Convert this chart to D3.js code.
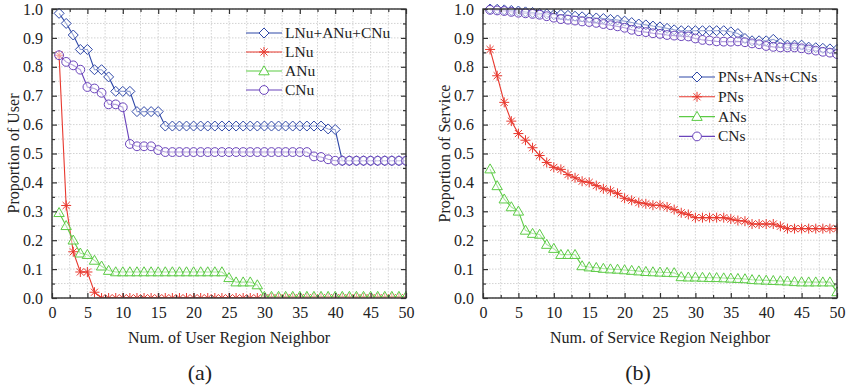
<!DOCTYPE html>
<html><head><meta charset="utf-8">
<script src="https://cdn.jsdelivr.net/npm/d3@7"></script>
<style>
body{margin:0;background:#fff;}
</style></head>
<body><svg id="c" width="850" height="387"></svg>
<script>
const neighbors = d3.range(1, 51);
const xTicks = [0,5,10,15,20,25,30,35,40,45,50];
const yTicks = [0.0,0.1,0.2,0.3,0.4,0.5,0.6,0.7,0.8,0.9,1.0];

// (a) user region
const userAll = [0.985,0.95,0.91,0.86,0.86,0.79,0.79,0.765,0.715,0.715,0.715,0.645,0.645,0.645,0.645,
  0.595,0.595,0.595,0.595,0.595,0.595,0.595,0.595,0.595,0.595,0.595,0.595,0.595,0.595,0.595,0.595,0.595,0.595,0.595,0.595,0.595,0.595,0.595,
  0.585,0.583,0.475,0.475,0.475,0.475,0.475,0.475,0.475,0.475,0.475,0.475];
const userLNu = [0.84,0.32,0.16,0.09,0.09,0.02,0,0,0,0,0,0,0,0,0,0,0,0,0,0,0,0,0,0,0,0,0,0,0,0,0,0,0,0,0,0,0,0,0,0,0,0,0,0,0,0,0,0,0,0];
const userANu = [0.295,0.25,0.2,0.155,0.15,0.13,0.11,0.095,
  0.09,0.09,0.09,0.09,0.09,0.09,0.09,0.09,0.09,0.09,0.09,0.09,0.09,0.09,0.09,0.09,
  0.07,0.055,0.055,0.055,0.045,
  0.005,0.005,0.005,0.005,0.005,0.005,0.005,0.005,0.005,0.005,0.005,0.005,0.005,0.005,0.005,0.005,0.005,0.005,0.005,0.005,0.005];
const userCNu = [0.84,0.817,0.805,0.79,0.73,0.725,0.71,0.67,0.67,0.66,0.533,0.525,0.525,0.525,0.512,
  0.505,0.505,0.505,0.505,0.505,0.505,0.505,0.505,0.505,0.505,0.505,0.505,0.505,0.505,0.505,0.505,0.505,0.505,0.505,0.505,0.505,
  0.49,0.488,0.48,0.475,0.475,0.475,0.475,0.475,0.475,0.475,0.475,0.475,0.475,0.475];

// (b) service region
const servAll = [1.0,0.999,0.997,0.995,0.993,0.99,0.988,0.985,0.983,0.98,
  0.981,0.978,0.975,0.973,0.97,0.969,0.967,0.964,0.962,0.958,
  0.953,0.948,0.945,0.941,0.938,0.933,0.928,0.925,0.925,0.925,
  0.925,0.925,0.925,0.925,0.921,0.915,0.898,0.89,0.89,0.89,
  0.895,0.882,0.875,0.875,0.875,0.868,0.866,0.864,0.862,0.86];
const servPNs = [0.86,0.769,0.677,0.612,0.569,0.546,0.52,0.493,0.469,0.452,
  0.445,0.427,0.416,0.404,0.4,0.389,0.378,0.371,0.362,0.345,
  0.338,0.33,0.326,0.321,0.321,0.315,0.306,0.295,0.289,0.278,
  0.278,0.278,0.278,0.278,0.273,0.268,0.266,0.256,0.256,0.256,
  0.256,0.248,0.24,0.24,0.24,0.24,0.24,0.24,0.24,0.24];
const servANs = [0.446,0.388,0.342,0.315,0.3,0.234,0.223,0.22,0.185,0.171,
  0.15,0.15,0.15,0.111,0.107,0.105,0.102,0.1,0.099,0.097,
  0.095,0.093,0.091,0.09,0.089,0.088,0.087,0.073,0.072,0.072,
  0.071,0.07,0.07,0.069,0.068,0.067,0.066,0.063,0.062,0.061,
  0.06,0.059,0.058,0.056,0.055,0.055,0.055,0.055,0.055,0.021];
const servCNs = [0.997,0.995,0.993,0.99,0.987,0.985,0.983,0.98,0.975,0.97,
  0.965,0.963,0.96,0.957,0.955,0.952,0.948,0.944,0.94,0.935,
  0.928,0.923,0.92,0.916,0.914,0.91,0.908,0.906,0.905,0.898,
  0.893,0.891,0.888,0.887,0.887,0.888,0.885,0.881,0.878,0.872,
  0.869,0.867,0.867,0.867,0.864,0.86,0.856,0.852,0.849,0.844];

const userNames = ["LNu+ANu+CNu","LNu","ANu","CNu"];
const servNames = ["PNs+ANs+CNs","PNs","ANs","CNs"];
const colors = ["#2f48a8","#e8392f","#5ccb45","#6a44bb"];
const shapes = ["diamond","asterisk","triangle","circle"];
const FONT = '"Liberation Serif", "Times New Roman", serif';

const svg = d3.select("#c");

function symbolPath(shape){
  if(shape==="diamond") return "M0,-5L5,0L0,5L-5,0Z";
  if(shape==="triangle") return "M0,-5.2L5.2,3.8L-5.2,3.8Z";
  if(shape==="circle") return "M4.4,0A4.4,4.4 0 1,1 -4.4,0A4.4,4.4 0 1,1 4.4,0Z";
  const r=5, d=r*0.7071;
  return `M0,${-r}L0,${r}M${-r},0L${r},0M${-d},${-d}L${d},${d}M${-d},${d}L${d},${-d}`;
}

function panel(opts){
  const {left, right, top, bottom, series, names, yTitle, xTitle, label, legend, id, labelX} = opts;
  const x = d3.scaleLinear().domain([0,50]).range([left,right]);
  const y = d3.scaleLinear().domain([0,1]).range([bottom,top]);
  const g = svg.append("g");
  const xMinor = d3.range(0,50.01,2.5), yMinor = d3.range(0,1.001,0.05);
  g.append("g").selectAll("line").data(xMinor).join("line")
    .attr("x1",d=>x(d)).attr("x2",d=>x(d)).attr("y1",top).attr("y2",bottom)
    .attr("stroke","#c8c8c8").attr("stroke-width",0.8).attr("stroke-dasharray","1.5,1.5");
  g.append("g").selectAll("line").data(yMinor).join("line")
    .attr("y1",d=>y(d)).attr("y2",d=>y(d)).attr("x1",left).attr("x2",right)
    .attr("stroke","#c8c8c8").attr("stroke-width",0.8).attr("stroke-dasharray","1.5,1.5");
  svg.append("defs").append("clipPath").attr("id",id).append("rect")
    .attr("x",left).attr("y",top-6).attr("width",right-left+1).attr("height",bottom-top+6);
  const plot = g.append("g").attr("clip-path",`url(#${id})`);
  series.forEach((vals,i)=>{
    const line = d3.line().x((d,j)=>x(neighbors[j])).y(d=>y(d));
    plot.append("path").datum(vals).attr("d",line).attr("fill","none")
      .attr("stroke",colors[i]).attr("stroke-width",1.1);
  });
  series.forEach((vals,i)=>{
    plot.append("g").selectAll("path").data(vals).join("path")
      .attr("transform",(d,j)=>`translate(${x(neighbors[j])},${y(d)})`)
      .attr("d",symbolPath(shapes[i]))
      .attr("fill",shapes[i]==="asterisk"?"none":"rgba(255,255,255,0.5)")
      .attr("stroke",colors[i]).attr("stroke-width",1);
  });
  const bx = d3.axisBottom(x).tickValues(xTicks).tickSize(-5).tickSizeOuter(0).tickPadding(9).tickFormat(d3.format("d"));
  const tx = d3.axisTop(x).tickValues(xTicks).tickSize(-5).tickSizeOuter(0).tickFormat("");
  const ly = d3.axisLeft(y).tickValues(yTicks).tickSize(-5).tickSizeOuter(0).tickPadding(9).tickFormat(d3.format(".1f"));
  const ry = d3.axisRight(y).tickValues(yTicks).tickSize(-5).tickSizeOuter(0).tickFormat("");
  const mb = d3.axisBottom(x).tickValues(d3.range(2.5,50,5)).tickSize(-3).tickSizeOuter(0).tickFormat("");
  const mt = d3.axisTop(x).tickValues(d3.range(2.5,50,5)).tickSize(-3).tickSizeOuter(0).tickFormat("");
  const ml = d3.axisLeft(y).tickValues(d3.range(0.05,1,0.1)).tickSize(-3).tickSizeOuter(0).tickFormat("");
  const mr = d3.axisRight(y).tickValues(d3.range(0.05,1,0.1)).tickSize(-3).tickSizeOuter(0).tickFormat("");
  const style = s=>{ s.attr("font-family",null); s.select(".domain").remove();
    s.selectAll("line").attr("stroke","#333").attr("stroke-width",1.2);
    s.selectAll("text").style("font-family",FONT).style("font-size","16px").attr("fill","#222"); };
  g.append("g").attr("transform",`translate(0,${bottom})`).call(bx).call(style);
  g.append("g").attr("transform",`translate(0,${bottom})`).call(mb).call(style);
  g.append("g").attr("transform",`translate(0,${top})`).call(tx).call(style);
  g.append("g").attr("transform",`translate(0,${top})`).call(mt).call(style);
  g.append("g").attr("transform",`translate(${left},0)`).call(ly).call(style);
  g.append("g").attr("transform",`translate(${left},0)`).call(ml).call(style);
  g.append("g").attr("transform",`translate(${right},0)`).call(ry).call(style);
  g.append("g").attr("transform",`translate(${right},0)`).call(mr).call(style);
  g.append("rect").attr("x",left).attr("y",top).attr("width",right-left).attr("height",bottom-top)
    .attr("fill","none").attr("stroke","#333").attr("stroke-width",1.4);
  g.append("text").attr("x",(left+right)/2).attr("y",343).attr("text-anchor","middle")
    .style("font-family",FONT).style("font-size","16px").attr("fill","#222").text(xTitle);
  g.append("text").attr("transform",`translate(${left-33},${(top+bottom)/2}) rotate(-90)`)
    .attr("text-anchor","middle").style("font-family",FONT).style("font-size","16px").attr("fill","#222").text(yTitle);
  g.append("text").attr("x",labelX).attr("y",380).attr("text-anchor","middle")
    .style("font-family",FONT).style("font-size","22px").attr("fill","#222").text(label);
  const lg = g.append("g");
  names.forEach((n,i)=>{
    const yy = legend.y + i*legend.dy;
    lg.append("line").attr("x1",legend.x1).attr("x2",legend.x2).attr("y1",yy).attr("y2",yy)
      .attr("stroke",colors[i]).attr("stroke-width",1.1);
    lg.append("path").attr("transform",`translate(${(legend.x1+legend.x2)/2},${yy})`)
      .attr("d",symbolPath(shapes[i])).attr("fill",shapes[i]==="asterisk"?"none":"#fff")
      .attr("stroke",colors[i]).attr("stroke-width",1);
    lg.append("text").attr("x",legend.x2+3).attr("y",yy+5).style("font-family",FONT)
      .style("font-size","15.5px").attr("fill","#222").text(n);
  });
}

panel({left:52,right:406,top:9,bottom:298,
  series:[userAll,userLNu,userANu,userCNu], names:userNames,
  yTitle:"Proportion of User", xTitle:"Num. of User Region Neighbor", label:"(a)", labelX:200,
  legend:{x1:246,x2:282,y:33,dy:19}, id:"clipA"});
panel({left:483,right:837,top:9,bottom:298,
  series:[servAll,servPNs,servANs,servCNs], names:servNames,
  yTitle:"Proportion of Service", xTitle:"Num. of Service Region Neighbor", label:"(b)", labelX:638,
  legend:{x1:679,x2:715,y:77,dy:19.8}, id:"clipB"});
</script></body></html>
